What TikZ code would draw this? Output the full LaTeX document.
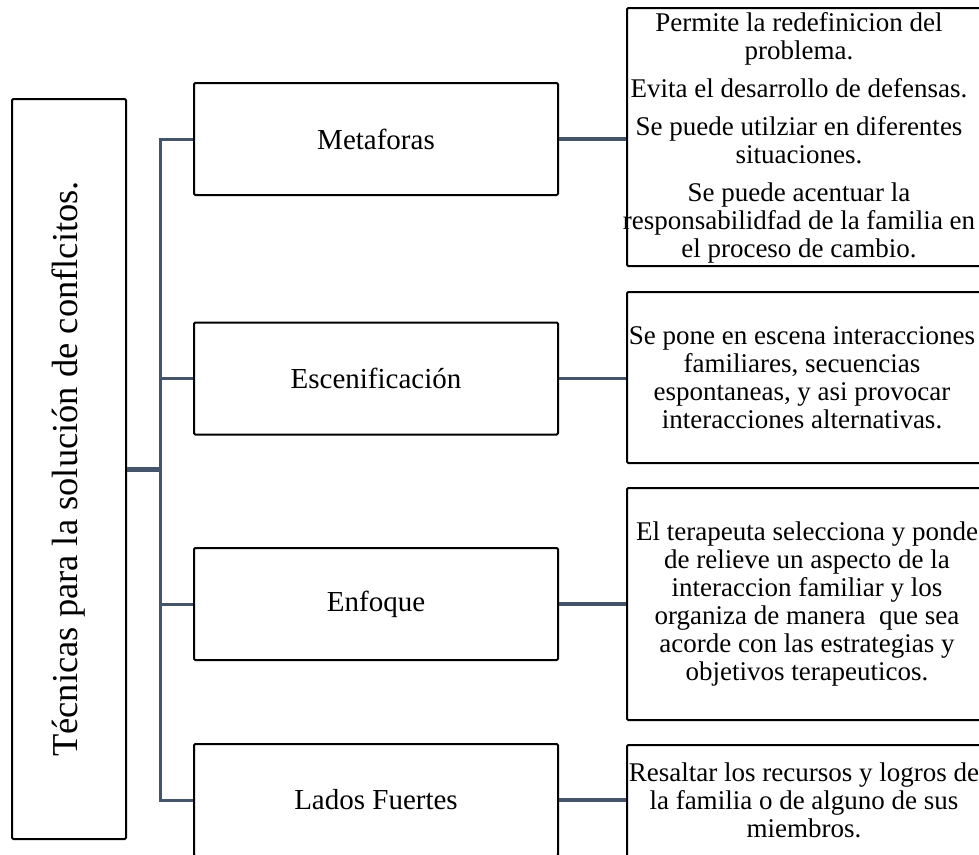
\documentclass[tikz,border=0pt]{standalone}
\usepackage{fontspec}
\setmainfont{Liberation Serif}
\begin{document}
\begin{tikzpicture}[x=1pt,y=-1pt,
  box/.style={draw=black, line width=2pt, rounded corners=1.2pt, inner sep=0pt},
  midbox/.style={box, minimum width=364pt, minimum height=112pt, font=\fontsize{29}{31}\selectfont},
  note/.style={align=center, inner sep=0pt, font=\fontsize{27}{28}\selectfont},
  link/.style={draw=linkcol, line width=3.5pt},
  trunkline/.style={draw=linkcol, line width=3pt}]
\definecolor{linkcol}{HTML}{44546A}
\useasboundingbox (0,0) rectangle (979,854);
\clip (0,0) rectangle (979,854);

% title box, text running upward
\node[box, rotate=90, minimum width=740pt, minimum height=114pt,
      font=\fontsize{36.5}{38}\selectfont] (root) at (69,469)
  {Técnicas para la solución de conflcitos.};

% technique boxes
\node[midbox] (m1) at (376,139) {Metaforas};
\node[midbox] (m2) at (376,378.5) {Escenificación};
\node[midbox] (m3) at (376,604) {Enfoque};
\node[midbox] (m4) at (376,800) {Lados Fuertes};

% description boxes
\node[box, minimum width=363pt, minimum height=258pt] (d1) at (808.5,137) {};
\node[box, minimum width=363pt, minimum height=171pt] (d2) at (808.5,377.5) {};
\node[box, minimum width=363pt, minimum height=232pt] (d3) at (808.5,604) {};
\node[box, minimum width=363pt, minimum height=125pt] (d4) at (808.5,807.5) {};

\node[note] (t1) at (799,138) {Permite la redefinicion del\\problema.\\[10pt]
  Evita el desarrollo de defensas.\\[10pt]
  Se puede utilziar en diferentes\\situaciones.\\[10pt]
  Se puede acentuar la\\responsabilidfad de la familia en\\el proceso de cambio.};
\node[note] (t2) at (802,378) {Se pone en escena interacciones\\familiares, secuencias\\espontaneas, y asi provocar\\interacciones alternativas.};
\node[note] (t3) at (807,604) {El terapeuta selecciona y ponde\\de relieve un aspecto de la\\interaccion familiar y los\\organiza de manera\ \ que sea\\acorde con las estrategias y\\objetivos terapeuticos.};
\node[note] (t4) at (804,800) {Resaltar los recursos y logros de\\la familia o de alguno de sus\\miembros.};

% tree connectors
\coordinate (j0) at (160,469);
\coordinate (j1) at (160,139);
\coordinate (j2) at (160,378.5);
\coordinate (j3) at (160,604);
\coordinate (j4) at (160,800);
\draw[trunkline] ([yshift=-1.5pt]j1) -- ([yshift=1.5pt]j4);
\draw[link, line width=5pt] (root.south) -- ([xshift=1.5pt]j0);
\foreach \i in {1,2,3,4} {
  \draw[link, line width=3pt] ([xshift=-1.5pt]j\i) -- (m\i.west);
  \draw[link] (m\i.east) -- (m\i.east -| d\i.west);
}
\end{tikzpicture}
\end{document}
